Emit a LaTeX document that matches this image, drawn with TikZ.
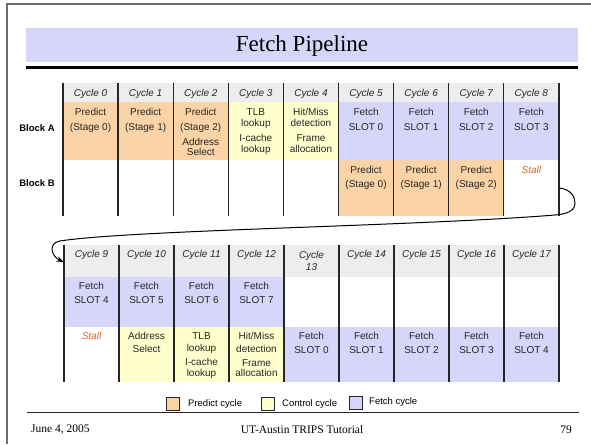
\documentclass[tikz,border=0pt]{standalone}
\usepackage{fontspec}
\setmainfont{Liberation Serif}
\setsansfont{Liberation Sans}
\usetikzlibrary{arrows.meta}
\definecolor{predc}{HTML}{FAD4A6}
\definecolor{ctrlc}{HTML}{FFFFCE}
\definecolor{fetchc}{HTML}{D6D6FB}
\definecolor{headc}{HTML}{EDEDED}
\definecolor{stallc}{HTML}{E4601E}
\definecolor{framec}{HTML}{6E6E6E}
\definecolor{linec}{HTML}{262626}
\definecolor{textc}{HTML}{262626}
\tikzset{
  txt/.style={font=\sffamily\fontsize{10}{11.5}\selectfont, align=center, inner sep=0pt, anchor=north, text=textc},
  hdr/.style={txt, font=\sffamily\itshape\fontsize{10}{12}\selectfont},
  stall/.style={hdr, text=stallc},
  blk/.style={font=\sffamily\bfseries\fontsize{9.5}{11}\selectfont, inner sep=0pt},
  vline/.style={draw=linec, line width=1.3pt},
  legbox/.style={draw=linec, line width=0.9pt, minimum size=13pt, inner sep=0pt, anchor=north west},
  legtxt/.style={font=\sffamily\fontsize{9.5}{11}\selectfont, anchor=west, inner sep=0pt},
  foot/.style={font=\rmfamily\fontsize{11.5}{13}\selectfont, inner sep=0pt}
}
\begin{document}
\begin{tikzpicture}[x=1pt,y=-1pt]
\useasboundingbox (0,0) rectangle (591,444);
\fill[white] (0,0) rectangle (591,444);
% slide frame
\draw[framec, line width=1.5pt] (7,444) -- (7,4) -- (591,4);
% title
\fill[fetchc] (26,28) rectangle (578,62);
\node[font=\rmfamily\fontsize{23}{25}\selectfont, inner sep=0pt] (title) at (302,46) {Fetch Pipeline};
\fill[black] (26,66) rectangle (578,69);

% ---------- table 1 ----------
\fill[headc] (63,83) rectangle (559,102);
\fill[predc] (63,102) rectangle ({63+3*55.1},160);
\fill[ctrlc] ({63+3*55.1},102) rectangle ({63+5*55.1},160);
\fill[fetchc] ({63+5*55.1},102) rectangle (559,160);
\fill[predc] ({63+5*55.1},160) rectangle ({63+8*55.1},216);
\foreach \i in {0,...,9} \draw[vline] ({63+\i*55.1},83) -- ({63+\i*55.1},216);
\foreach \i in {0,...,8} \node[hdr] (h\i) at ({63+(\i+0.5)*55.1},89) {Cycle \i};

\node[blk] (blockA) at (37,128) {Block A};
\node[blk] (blockB) at (37,183) {Block B};

\node[txt] (a0) at ({63+0.5*55.1},108) {Predict\\[3.5pt](Stage 0)};
\node[txt] (a1) at ({63+1.5*55.1},108) {Predict\\[3.5pt](Stage 1)};
\node[txt] (a2) at ({63+2.5*55.1},108) {Predict\\[3.5pt](Stage 2)\\[3.5pt]Address\\[-1.5pt]Select};
\node[txt] (a3) at ({63+3.5*55.1},108) {TLB\\lookup\\[3pt]I-cache\\lookup};
\node[txt] (a4) at ({63+4.5*55.1},108) {Hit/Miss\\detection\\[3pt]Frame\\allocation};
\node[txt] (a5) at ({63+5.5*55.1},108) {Fetch\\[3.5pt]SLOT 0};
\node[txt] (a6) at ({63+6.5*55.1},108) {Fetch\\[3.5pt]SLOT 1};
\node[txt] (a7) at ({63+7.5*55.1},108) {Fetch\\[3.5pt]SLOT 2};
\node[txt] (a8) at ({63+8.5*55.1},108) {Fetch\\[3.5pt]SLOT 3};

\node[txt] (b5) at ({63+5.5*55.1},166.4) {Predict\\[2.5pt](Stage 0)};
\node[txt] (b6) at ({63+6.5*55.1},166.4) {Predict\\[2.5pt](Stage 1)};
\node[txt] (b7) at ({63+7.5*55.1},166.4) {Predict\\[2.5pt](Stage 2)};
\node[stall] (b8) at ({63+8.5*55.1},166.4) {Stall};

% ---------- table 2 ----------
\fill[headc] (64,245) rectangle (559,277);
\fill[fetchc] (64,277) rectangle (284,327);
\fill[ctrlc] (119,327) rectangle (284,382);
\fill[fetchc] (284,327) rectangle (559,382);
\foreach \i in {0,...,9} \draw[vline] ({64+\i*55},245) -- ({64+\i*55},382);
\foreach \i/\c in {0/9,1/10,2/11,3/12,5/14,6/15,7/16,8/17}
  \node[hdr] (h\c) at ({64+(\i+0.5)*55},250.4) {Cycle \c};
\node[hdr] (h13) at ({64+4.5*55},251.4) {Cycle\\13};

\node[txt] (c9)  at ({64+0.5*55},282.1) {Fetch\\[2pt]SLOT 4};
\node[txt] (c10) at ({64+1.5*55},282.1) {Fetch\\[2pt]SLOT 5};
\node[txt] (c11) at ({64+2.5*55},282.1) {Fetch\\[2pt]SLOT 6};
\node[txt] (c12) at ({64+3.5*55},282.1) {Fetch\\[2pt]SLOT 7};

\node[stall] (d9) at ({64+0.5*55},332.1) {Stall};
\node[txt] (d10) at ({64+1.5*55},332.1) {Address\\[1pt]Select};
\node[txt] (d11) at ({64+2.5*55},332.1) {TLB\\[1pt]lookup\\[2.5pt]I-cache\\[-1pt]lookup};
\node[txt] (d12) at ({64+3.5*55},332.1) {Hit/Miss\\[1pt]detection\\[2.5pt]Frame\\[-1pt]allocation};
\node[txt] (d13) at ({64+4.5*55},332.1) {Fetch\\[2pt]SLOT 0};
\node[txt] (d14) at ({64+5.5*55},332.1) {Fetch\\[2pt]SLOT 1};
\node[txt] (d15) at ({64+6.5*55},332.1) {Fetch\\[2pt]SLOT 2};
\node[txt] (d16) at ({64+7.5*55},332.1) {Fetch\\[2pt]SLOT 3};
\node[txt] (d17) at ({64+8.5*55},332.1) {Fetch\\[2pt]SLOT 4};

% wrap-around connector
\coordinate (wrapstart) at (559,188);
\coordinate (wrapend) at (63.5,262);
\draw[black, line width=1pt, -{Stealth[length=7pt,width=5.5pt]}]
  (wrapstart) .. controls (570,189) and (575,196) .. (575,203)
  .. controls (575,211) and (567,214) .. (555,215)
  .. controls (420,226) and (130,230) .. (60,241)
  .. controls (48,243) and (51,256) .. (wrapend);

% legend
\node[legbox, fill=predc] (lp) at (166,397) {};
\node[legtxt] (lpt) at (188,404.5) {Predict cycle};
\node[legbox, fill=ctrlc] (lc) at (261,397) {};
\node[legtxt] (lct) at (282,404.5) {Control cycle};
\node[legbox, fill=fetchc] (lf) at (349,396) {};
\node[legtxt] (lft) at (369,402.5) {Fetch cycle};

% footer
\draw[linec, line width=1pt] (27,412) -- (579,412);
\node[foot, anchor=west] (date) at (31,429.5) {June 4, 2005};
\node[foot] (tut) at (302,429.5) {UT-Austin TRIPS Tutorial};
\node[foot] (pg) at (566,429.5) {79};
\end{tikzpicture}
\end{document}
